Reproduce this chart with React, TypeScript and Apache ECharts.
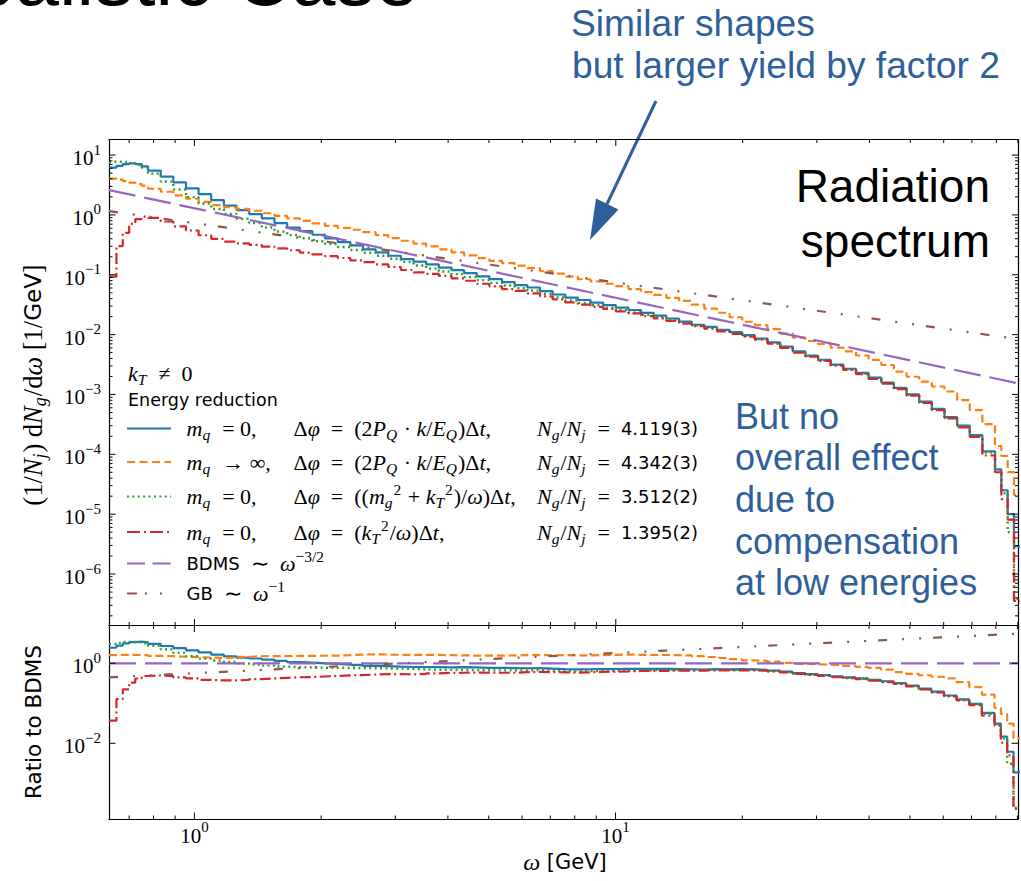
import React, { useEffect, useRef } from 'react';
import * as echarts from 'echarts';

// ---------- data ----------
// histogram bin edges in omega [GeV]
const binEdges = [0.627, 0.653, 0.676, 0.700, 0.724, 0.750, 0.776, 0.832, 0.891, 0.955, 1.023, 1.096, 1.175, 1.259, 1.349, 1.445, 1.549, 1.660, 1.778, 1.905, 2.042, 2.188, 2.344, 2.512, 2.692, 2.884, 3.090, 3.311, 3.548, 3.802, 4.074, 4.365, 4.677, 5.012, 5.370, 5.754, 6.166, 6.607, 7.079, 7.586, 8.128, 8.710, 9.333, 10.00, 10.72, 11.48, 12.30, 13.18, 14.13, 15.14, 16.22, 17.38, 18.62, 19.95, 21.38, 22.91, 24.55, 26.30, 28.18, 30.20, 32.36, 34.67, 37.15, 39.81, 42.66, 45.71, 48.98, 52.48, 56.23, 60.26, 64.57, 69.18, 74.13, 79.43, 82.22, 85.11, 88.10, 91.20];

// log10 of (1/N_j) dN_g/domega per bin
const blueLog = [0.79, 0.82, 0.85, 0.862, 0.85, 0.81,
  0.741, 0.641, 0.544, 0.444, 0.348, 0.248, 0.156, 0.081, 0.014, -0.057,
  -0.136, -0.211, -0.270, -0.331, -0.392, -0.453, -0.509, -0.575, -0.625, -0.682,
  -0.737, -0.782, -0.828, -0.879, -0.921, -0.971, -1.026, -1.072, -1.122, -1.172,
  -1.213, -1.272, -1.330, -1.381, -1.422, -1.464, -1.506, -1.548, -1.589, -1.636,
  -1.681, -1.731, -1.782, -1.835, -1.87, -1.92, -1.96, -2.01, -2.065, -2.13,
  -2.20, -2.28, -2.35, -2.42, -2.50, -2.57, -2.64, -2.72, -2.80, -2.89,
  -3.00, -3.12, -3.24, -3.38, -3.52, -3.68, -3.95,
  -4.25, -4.6, -5.0, -5.54];

const orangeLog = [0.607, 0.591, 0.566, 0.541, 0.516, 0.490,
  0.437, 0.387, 0.327, 0.270, 0.218, 0.165, 0.128, 0.101, 0.070, 0.028,
  -0.016, -0.057, -0.099, -0.141, -0.183, -0.216, -0.248, -0.286, -0.336, -0.387,
  -0.432, -0.478, -0.525, -0.575, -0.625, -0.675, -0.722, -0.768, -0.806, -0.846,
  -0.888, -0.938, -0.980, -1.030, -1.075, -1.112, -1.150, -1.190, -1.240, -1.290,
  -1.335, -1.385, -1.437, -1.50, -1.565, -1.635, -1.71, -1.785, -1.84, -1.907,
  -1.982, -2.049, -2.107, -2.157, -2.216, -2.279, -2.349, -2.421, -2.508, -2.617,
  -2.704, -2.784, -2.867, -2.95, -3.093, -3.260, -3.494,
  -3.861, -4.028, -4.296, -4.680];

const greenLog = [0.888, 0.888, 0.885, 0.866, 0.833, 0.79,
  0.69, 0.557, 0.424, 0.298, 0.190, 0.098, 0.018, -0.065, -0.137, -0.21,
  -0.277, -0.337, -0.39, -0.44, -0.487, -0.535, -0.585, -0.632, -0.682, -0.732,
  -0.785, -0.845, -0.895, -0.945, -0.99, -1.04, -1.09, -1.135, -1.18, -1.225,
  -1.265, -1.32, -1.38, -1.43, -1.47, -1.51, -1.55, -1.59, -1.63, -1.67,
  -1.71, -1.755, -1.80, -1.845, -1.88, -1.93, -1.97, -2.02, -2.075, -2.14,
  -2.21, -2.29, -2.36, -2.43, -2.51, -2.58, -2.65, -2.73, -2.81, -2.90,
  -3.01, -3.13, -3.25, -3.39, -3.53, -3.69, -3.97,
  -4.27, -4.65, -5.3, -6.42];

const redLog = [-1.03, -0.52, -0.30, -0.15, -0.07, -0.03,
  -0.05, -0.11, -0.19, -0.26, -0.34, -0.40, -0.445, -0.475, -0.50, -0.53,
  -0.56, -0.59, -0.63, -0.66, -0.69, -0.72, -0.76, -0.79, -0.825, -0.87,
  -0.92, -0.96, -0.985, -1.02, -1.06, -1.10, -1.15, -1.195, -1.24, -1.27,
  -1.31, -1.36, -1.41, -1.46, -1.50, -1.535, -1.57, -1.61, -1.645, -1.69,
  -1.73, -1.77, -1.815, -1.86, -1.90, -1.945, -1.99, -2.035, -2.085, -2.15,
  -2.22, -2.30, -2.37, -2.44, -2.52, -2.59, -2.66, -2.74, -2.82, -2.91,
  -3.02, -3.14, -3.26, -3.40, -3.55, -3.71, -4.02,
  -4.30, -4.75, -5.09, -6.45];

// reference power laws (end points read at the axis limits)
const lawOmega = [0.627, 90.3];
const bdmsValues = [2.6, 1.53e-3];
const gbValues = [1.16, 8.4e-3];

// ticks
const xMajorTicks = [1, 10];
const xMinorTicks = [0.7, 0.8, 0.9, 2, 3, 4, 5, 6, 7, 8, 9, 20, 30, 40, 50, 60, 70, 80, 90];
const yTopMajorTicks = [1e-6, 1e-5, 1e-4, 1e-3, 1e-2, 1e-1, 1, 10];
const yBotMajorTicks = [1e-2, 1];

// ---------- layout constants ----------
const X_MIN = 0.627, X_MAX = 90.3;
const Y_TOP_MIN = 1.38e-7, Y_TOP_MAX = 18.2;
const Y_BOT_MIN = 1.28e-4, Y_BOT_MAX = 8.8;

const COL = { blue: '#1f77b4', orange: '#ff7f0e', green: '#2ca02c', red: '#d62728', purple: '#9467bd', brown: '#8c564b' };
const ANN = '#2f5f9a';

const DASH = {
  orange: [8, 3.8],
  green: [2, 3.4],
  red: [11, 3.5, 2, 3.5],
  purple: [27, 9],
  brown: [9, 15, 2, 15, 2, 12],
};

function histPoints(logs: number[]) {
  const pts: number[][] = logs.map((l, k) => [binEdges[k], Math.pow(10, l)]);
  pts.push([binEdges[logs.length], Math.pow(10, logs[logs.length - 1])]);
  return pts;
}
const lawSlope = Math.log(bdmsValues[1] / bdmsValues[0]) / Math.log(lawOmega[1] / lawOmega[0]);
function bdmsAt(w: number) {
  return bdmsValues[0] * Math.pow(w / lawOmega[0], lawSlope);
}
function ratioPoints(logs: number[]) {
  const pts: number[][] = logs.map((l, k) => {
    const c = Math.sqrt(binEdges[k] * binEdges[k + 1]);
    return [binEdges[k], Math.pow(10, l) / bdmsAt(c)];
  });
  pts.push([binEdges[logs.length], pts[pts.length - 1][1]]);
  return pts;
}

function supLabel(v: number, evenOnly: boolean) {
  const lg = Math.log10(v);
  const e = Math.round(lg);
  if (Math.abs(lg - e) > 1e-6) return '';
  if (evenOnly && e % 2 !== 0) return '';
  return '{b|10}{s|' + (e < 0 ? '\u2212' + -e : String(e)) + '}';
}

const tickRich = {
  b: { fontFamily: 'Liberation Serif', fontSize: 21, color: '#000', padding: [6, 0, 0, 0], verticalAlign: 'middle' },
  s: { fontFamily: 'Liberation Serif', fontSize: 15, color: '#000', padding: [0, 0, 11, 0], verticalAlign: 'middle' },
};

function tickSeries(xIdx: number, yIdx: number, axis: 'x' | 'y', majors: number[], minors: number[]) {
  const data = majors.map((v) => (axis === 'x' ? [v, 1] : [1, v])).concat(minors.map((v) => (axis === 'x' ? [v, 2] : [2, v])));
  return {
    type: 'custom',
    xAxisIndex: xIdx,
    yAxisIndex: yIdx,
    silent: true,
    clip: false,
    z: 10,
    data,
    renderItem: (params: any, api: any) => {
      const cs = params.coordSys;
      const vx = api.value(0), vy = api.value(1);
      const major = axis === 'x' ? vy === 1 : vx === 1;
      const len = major ? 6.5 : 3.5;
      const p = api.coord([vx, vy]);
      const st = { stroke: '#000', lineWidth: 1 };
      if (axis === 'x') {
        const yb = cs.y + cs.height, yt = cs.y;
        return { type: 'group', children: [
          { type: 'line', shape: { x1: p[0], y1: yb, x2: p[0], y2: yb - len }, style: st },
          { type: 'line', shape: { x1: p[0], y1: yt, x2: p[0], y2: yt + len }, style: st },
        ] };
      }
      const xl = cs.x, xr = cs.x + cs.width;
      return { type: 'group', children: [
        { type: 'line', shape: { x1: xl, y1: p[1], x2: xl + len, y2: p[1] }, style: st },
        { type: 'line', shape: { x1: xr, y1: p[1], x2: xr - len, y2: p[1] }, style: st },
      ] };
    },
  };
}

function lineSeries(xIdx: number, yIdx: number, data: number[][], color: string, type: any, width: number, step: boolean) {
  return {
    type: 'line', xAxisIndex: xIdx, yAxisIndex: yIdx, data, step: step ? 'end' : false,
    showSymbol: false, symbol: 'none', silent: true, clip: true,
    lineStyle: { color, width, type, cap: 'butt' },
  };
}

const MF = 22;   // math font size in legend
const MS = 15.5; // sub/superscript size
const mathRich: any = {
  r: { fontFamily: 'Liberation Serif', fontSize: MF, fill: '#000', color: '#000', verticalAlign: 'middle' },
  i: { fontFamily: 'Liberation Serif', fontStyle: 'italic', fontSize: MF, fill: '#000', color: '#000', verticalAlign: 'middle' },
  sub: { fontFamily: 'Liberation Serif', fontStyle: 'italic', fontSize: MS, fill: '#000', color: '#000', padding: [12, 1, 0, 0], verticalAlign: 'middle' },
  sup: { fontFamily: 'Liberation Serif', fontSize: MS, fill: '#000', color: '#000', padding: [0, 1, 14, 0], verticalAlign: 'middle' },
  s: { fontFamily: 'DejaVu Sans', fontSize: 18, fill: '#000', color: '#000', verticalAlign: 'middle' },
};

function richText(x: number, y: number, text: string) {
  return {
    type: 'text', x, y, silent: true,
    style: { text, rich: mathRich, fill: '#000', fontFamily: 'Liberation Serif', fontSize: MF, align: 'left', verticalAlign: 'middle', textAlign: 'left', textVerticalAlign: 'middle' },
  };
}

function plainText(x: number, y: number, text: string, size: number, color: string, align = 'left', family = 'Liberation Sans') {
  return {
    type: 'text', x, y, silent: true,
    style: { text, fill: color, fontFamily: family, fontSize: size, align, verticalAlign: 'middle', textAlign: align, textVerticalAlign: 'middle' },
  };
}

function sample(y: number, color: string, dash: number[] | null) {
  return {
    type: 'line', silent: true,
    shape: { x1: 127, y1: y, x2: 171, y2: y },
    style: { stroke: color, lineWidth: 2.2, lineDash: dash || undefined },
  };
}

const legendRows = [428.5, 462, 496.5, 532, 563.5, 593.5];
const C1 = 186.5, C2 = 293.5, C3 = 537;
const DPHI = '{r|\u0394}{i|\u03c6}{r|  =  }';
const NGNJ = '{i|N}{sub|g}{r|/}{i|N}{sub|j}{r|  =  }';

const graphics: any[] = [
  // slide title (cut by top edge, as in the reference)
  plainText(419, -23, 'Realistic Case', 79, '#000', 'right'),
  // annotations
  plainText(571, 22.5, 'Similar shapes', 37.2, ANN),
  plainText(572, 64.5, 'but larger yield by factor 2', 37.2, ANN),
  { type: 'line', silent: true, shape: { x1: 656, y1: 101, x2: 607, y2: 204 }, style: { stroke: ANN, lineWidth: 3 } },
  { type: 'polygon', silent: true, shape: { points: [[590, 240], [618.5, 209.5], [596, 198.5]] }, style: { fill: ANN } },
  plainText(990, 186, 'Radiation', 46, '#000', 'right'),
  plainText(990, 241, 'spectrum', 46, '#000', 'right'),
  plainText(735, 416, 'But no', 36, ANN),
  plainText(735, 457.5, 'overall effect', 36, ANN),
  plainText(735, 499, 'due to', 36, ANN),
  plainText(735, 541, 'compensation', 36, ANN),
  plainText(735, 582.5, 'at low energies', 36, ANN),
  // legend
  richText(128, 373, '{i|k}{sub|T}{r|  \u2260  0}'),
  plainText(128, 400, 'Energy reduction', 17.5, '#000', 'left', 'DejaVu Sans'),
  sample(legendRows[0], COL.blue, null),
  sample(legendRows[1], COL.orange, [8, 4.5]),
  sample(legendRows[2], COL.green, [2, 3.4]),
  sample(legendRows[3], COL.red, [13, 4, 2, 4]),
  sample(legendRows[4], COL.purple, [18, 7.5]),
  sample(legendRows[5], COL.brown, [10, 8, 2, 13, 2, 20]),
  richText(C1, legendRows[0], '{i|m}{sub|q}{r|  = 0,}'),
  richText(C2, legendRows[0], DPHI + '{r|(2}{i|P}{sub|Q}{r| \u00b7 }{i|k}{r|/}{i|E}{sub|Q}{r|)\u0394}{i|t}{r|,}'),
  richText(C3, legendRows[0], NGNJ + '{s|4.119(3)}'),
  richText(C1, legendRows[1], '{i|m}{sub|q}{r|  \u2192 \u221e,}'),
  richText(C2, legendRows[1], DPHI + '{r|(2}{i|P}{sub|Q}{r| \u00b7 }{i|k}{r|/}{i|E}{sub|Q}{r|)\u0394}{i|t}{r|,}'),
  richText(C3, legendRows[1], NGNJ + '{s|4.342(3)}'),
  richText(C1, legendRows[2], '{i|m}{sub|q}{r|  = 0,}'),
  richText(C2, legendRows[2], DPHI + '{r|((}{i|m}{sub|g}{sup|2}{r| + }{i|k}{sub|T}{sup|2}{r|)/}{i|\u03c9}{r|)\u0394}{i|t}{r|,}'),
  richText(C3, legendRows[2], NGNJ + '{s|3.512(2)}'),
  richText(C1, legendRows[3], '{i|m}{sub|q}{r|  = 0,}'),
  richText(C2, legendRows[3], DPHI + '{r|(}{i|k}{sub|T}{sup|2}{r|/}{i|\u03c9}{r|)\u0394}{i|t}{r|,}'),
  richText(C3, legendRows[3], NGNJ + '{s|1.395(2)}'),
  richText(C1, legendRows[4], '{s|BDMS }{r| \u223c  }{i|\u03c9}{sup|\u22123/2}'),
  richText(C1, legendRows[5], '{s|GB }{r| \u223c  }{i|\u03c9}{sup|\u22121}'),
  // axis titles
  {
    type: 'text', x: 33, y: 385, rotation: Math.PI / 2, silent: true,
    style: {
      text: '{r|(1/}{i|N}{sub|j}{r|) d}{i|N}{sub|g}{r|/d}{i|\u03c9}{r| [1/}{g|GeV}{r|]}',
      align: 'center', verticalAlign: 'middle', textAlign: 'center', textVerticalAlign: 'middle',
      rich: {
        r: { fontFamily: 'Liberation Serif', fontSize: 26.5, fill: '#000', verticalAlign: 'middle' },
        i: { fontFamily: 'Liberation Serif', fontStyle: 'italic', fontSize: 26.5, fill: '#000', verticalAlign: 'middle' },
        sub: { fontFamily: 'Liberation Serif', fontStyle: 'italic', fontSize: 18, fill: '#000', padding: [13, 1, 0, 0], verticalAlign: 'middle' },
        g: { fontFamily: 'DejaVu Sans', fontSize: 23, fill: '#000', verticalAlign: 'middle' },
      },
    },
  },
  {
    type: 'text', x: 33, y: 722, rotation: Math.PI / 2, silent: true,
    style: { text: 'Ratio to BDMS', fontFamily: 'DejaVu Sans', fontSize: 21.5, fill: '#000', align: 'center', verticalAlign: 'middle', textAlign: 'center', textVerticalAlign: 'middle' },
  },
  {
    type: 'text', x: 565, y: 862, silent: true,
    style: {
      text: '{i|\u03c9}{g| [GeV]}',
      align: 'center', verticalAlign: 'middle', textAlign: 'center', textVerticalAlign: 'middle',
      rich: {
        i: { fontFamily: 'Liberation Serif', fontStyle: 'italic', fontSize: 24, fill: '#000', verticalAlign: 'middle' },
        g: { fontFamily: 'DejaVu Sans', fontSize: 21, fill: '#000', verticalAlign: 'middle' },
      },
    },
  },
];

function logAxis(gridIndex: number, min: number, max: number, position: string, labels: any) {
  return {
    type: 'log', logBase: 10, gridIndex, min, max, position,
    axisLine: { show: true, onZero: false, lineStyle: { color: '#000', width: 1.2 } },
    axisTick: { show: false },
    minorTick: { show: false },
    splitLine: { show: false },
    axisLabel: labels || { show: false },
  };
}

const yMinorTop: number[] = [];
for (let n = -7; n <= 1; n++) {
  for (let k = 2; k <= 9; k++) {
    const v = k * Math.pow(10, n);
    if (v > Y_TOP_MIN && v < Y_TOP_MAX) yMinorTop.push(v);
  }
}

const option: any = {
  animation: false,
  backgroundColor: '#fff',
  grid: [
    { left: 109, top: 139.5, width: 909.5, height: 486, containLabel: false },
    { left: 109, top: 625.5, width: 909.5, height: 193.5, containLabel: false },
  ],
  xAxis: [
    logAxis(0, X_MIN, X_MAX, 'bottom', null),
    logAxis(0, X_MIN, X_MAX, 'top', null),
    logAxis(1, X_MIN, X_MAX, 'bottom', {
      show: true, margin: 0, formatter: (v: number) => supLabel(v, false), rich: tickRich,
      showMinLabel: true, showMaxLabel: true, hideOverlap: false,
    }),
    logAxis(1, X_MIN, X_MAX, 'top', null),
  ],
  yAxis: [
    logAxis(0, Y_TOP_MIN, Y_TOP_MAX, 'left', {
      show: true, margin: 8, formatter: (v: number) => supLabel(v, false), rich: tickRich, hideOverlap: false,
    }),
    logAxis(0, Y_TOP_MIN, Y_TOP_MAX, 'right', null),
    logAxis(1, Y_BOT_MIN, Y_BOT_MAX, 'left', {
      show: true, margin: 8, formatter: (v: number) => supLabel(v, true), rich: tickRich, hideOverlap: false,
    }),
    logAxis(1, Y_BOT_MIN, Y_BOT_MAX, 'right', null),
  ],
  series: [
    lineSeries(0, 0, histPoints(blueLog), COL.blue, 'solid', 2.2, true),
    lineSeries(0, 0, histPoints(orangeLog), COL.orange, DASH.orange, 2.2, true),
    lineSeries(0, 0, histPoints(greenLog), COL.green, DASH.green, 2.4, true),
    lineSeries(0, 0, histPoints(redLog), COL.red, DASH.red, 2.2, true),
    lineSeries(0, 0, [[lawOmega[0], bdmsValues[0]], [lawOmega[1], bdmsValues[1]]], COL.purple, DASH.purple, 2.2, false),
    lineSeries(0, 0, [[lawOmega[0], gbValues[0]], [lawOmega[1], gbValues[1]]], COL.brown, DASH.brown, 2.2, false),
    lineSeries(2, 2, ratioPoints(blueLog), COL.blue, 'solid', 2.2, true),
    lineSeries(2, 2, ratioPoints(orangeLog), COL.orange, DASH.orange, 2.2, true),
    lineSeries(2, 2, ratioPoints(greenLog), COL.green, DASH.green, 2.4, true),
    lineSeries(2, 2, ratioPoints(redLog), COL.red, DASH.red, 2.2, true),
    lineSeries(2, 2, [[lawOmega[0], 1], [lawOmega[1], 1]], COL.purple, DASH.purple, 2.2, false),
    lineSeries(2, 2, [[lawOmega[0], gbValues[0] / bdmsValues[0]], [lawOmega[1], gbValues[1] / bdmsValues[1]]], COL.brown, DASH.brown, 2.2, false),
    tickSeries(0, 0, 'x', xMajorTicks, xMinorTicks),
    tickSeries(0, 0, 'y', yTopMajorTicks, yMinorTop),
    tickSeries(2, 2, 'x', xMajorTicks, xMinorTicks),
    tickSeries(2, 2, 'y', yBotMajorTicks, []),
  ],
  graphic: { elements: graphics },
};

export default function App() {
  const ref = useRef<HTMLDivElement>(null);
  useEffect(() => {
    document.body.style.margin = '0';
    const chart = echarts.init(ref.current as HTMLDivElement, null, { renderer: 'svg' });
    chart.setOption(option);
    return () => chart.dispose();
  }, []);
  return <div ref={ref} style={{ width: 1021, height: 881, overflow: 'hidden' }} />;
}
